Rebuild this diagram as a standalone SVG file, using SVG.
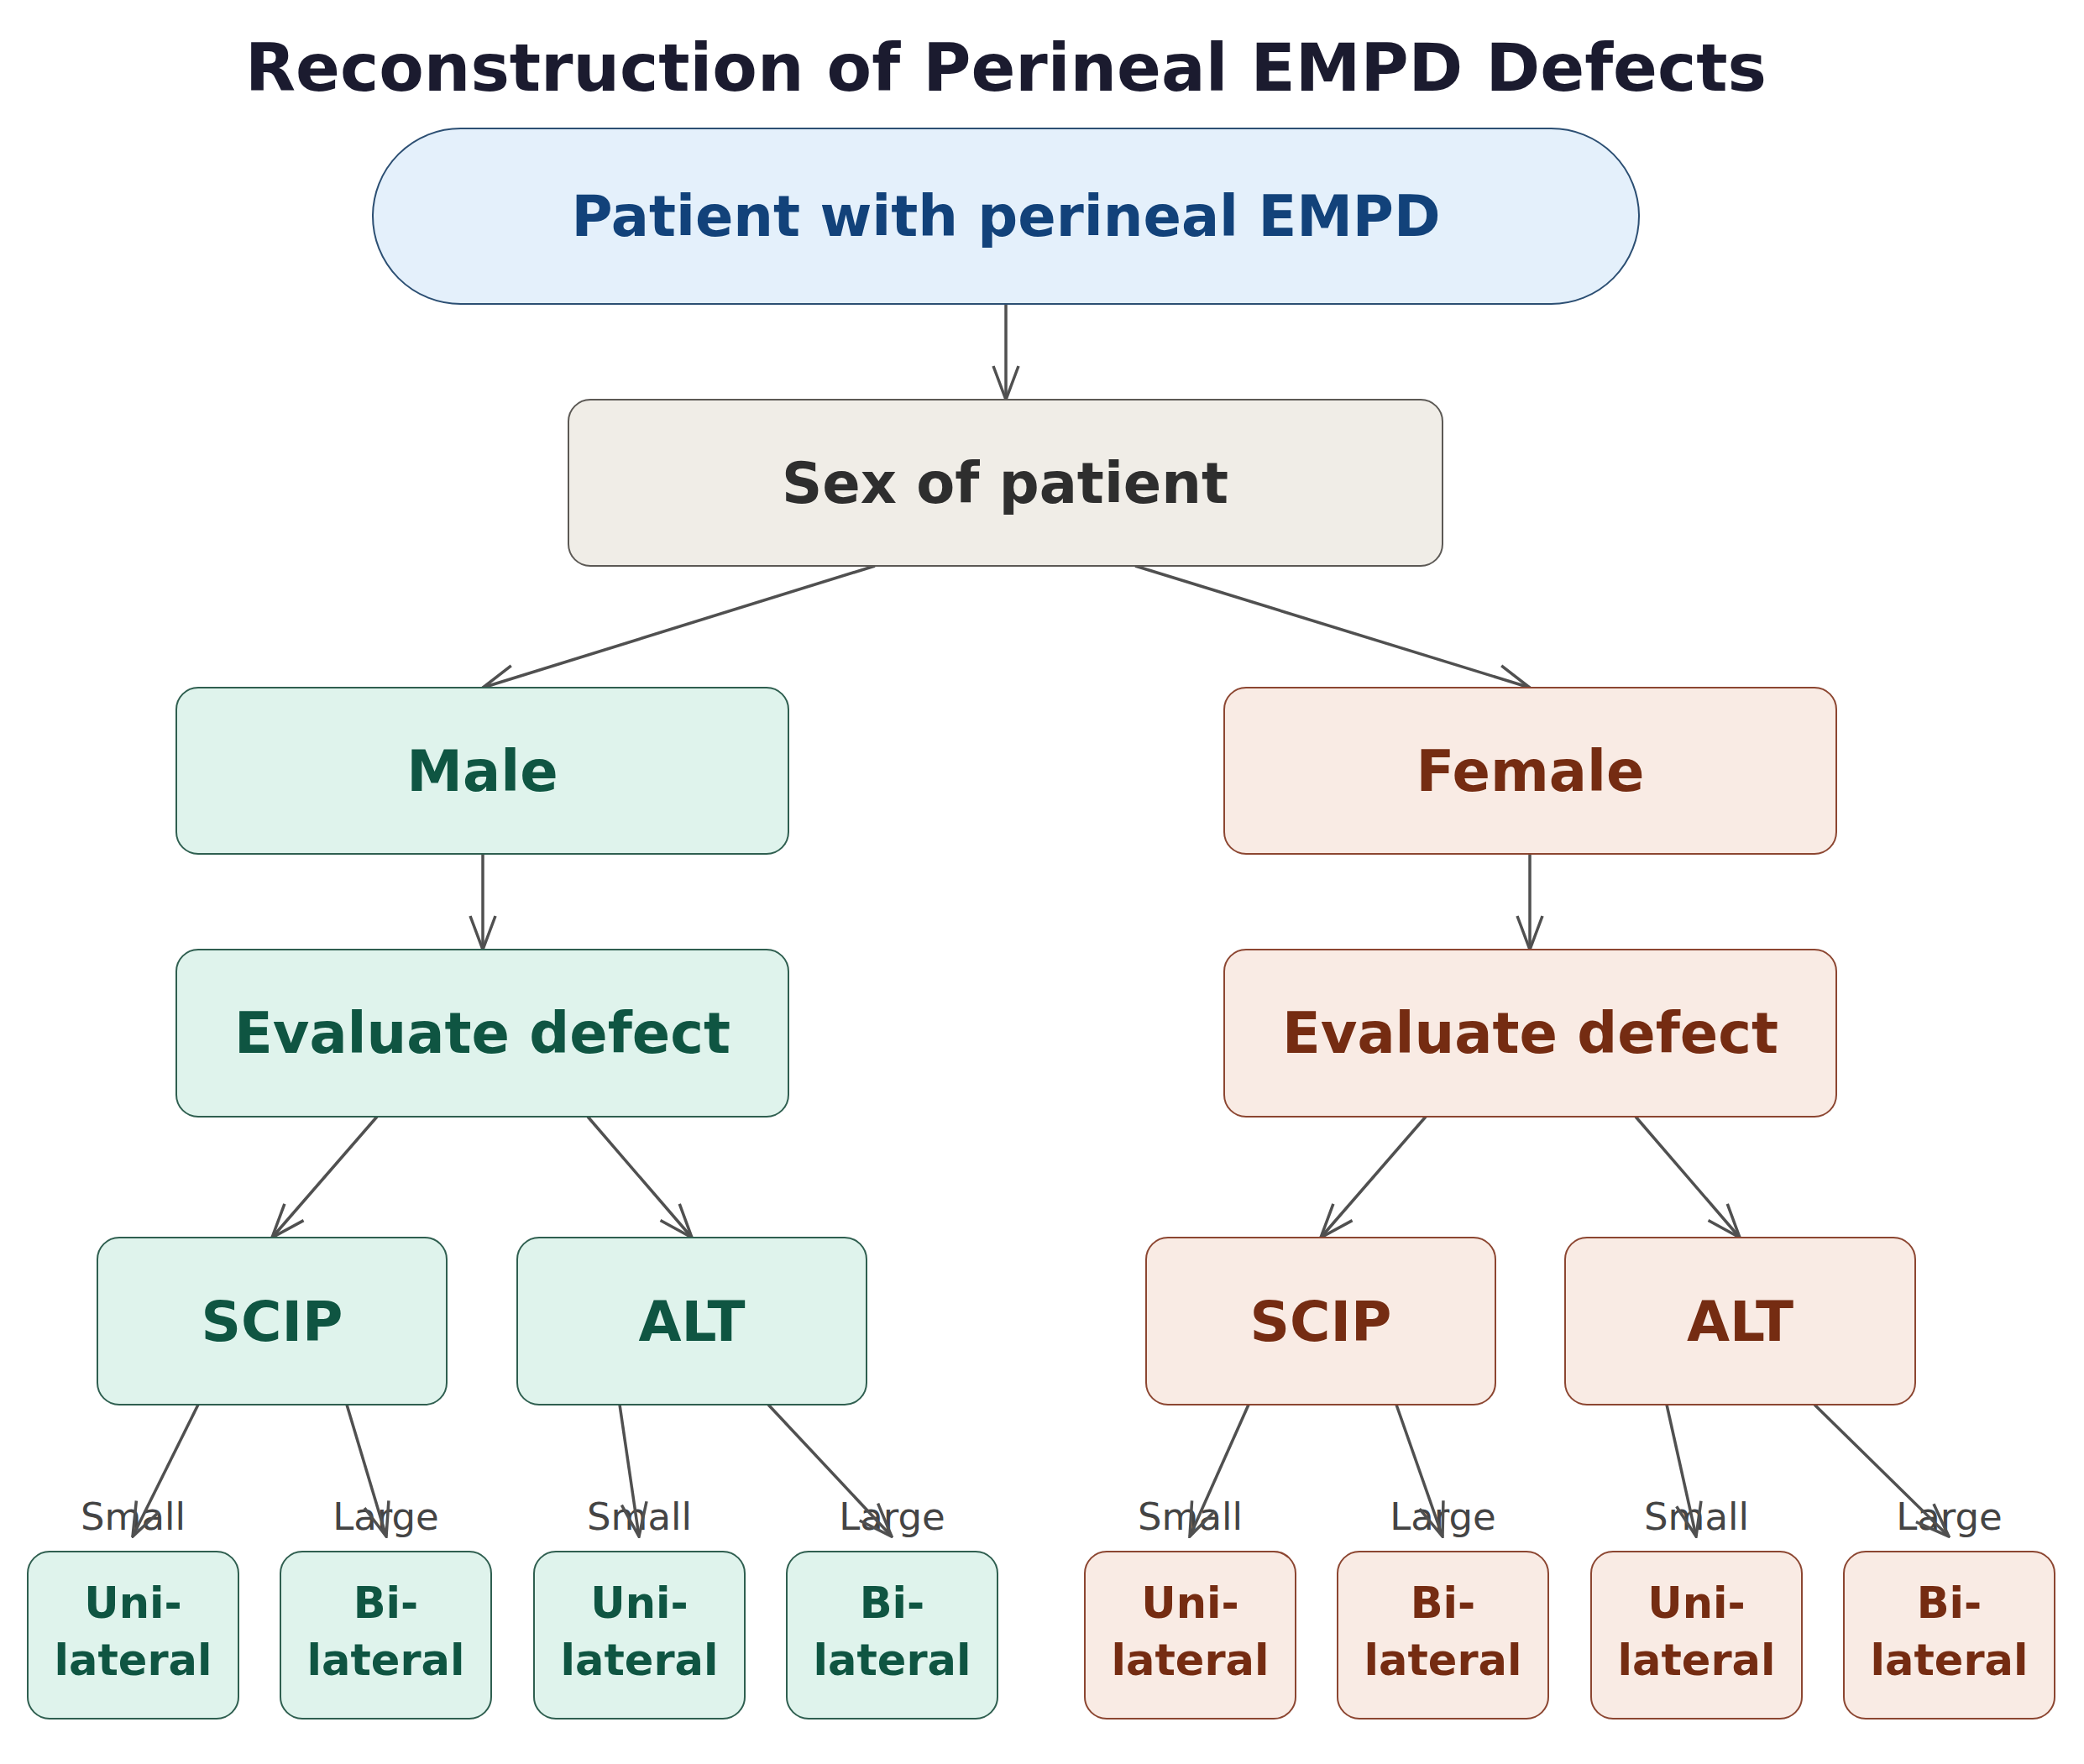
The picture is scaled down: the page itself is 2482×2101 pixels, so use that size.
<svg xmlns="http://www.w3.org/2000/svg" width="2482" height="2101" viewBox="0 0 2482 2101">
<style>
text{font-family:"DejaVu Sans","Liberation Sans",sans-serif;text-anchor:middle}
.t{font-weight:bold}
.big{font-size:67px}
.mid{font-size:66px}
.leaf{font-size:51px}
.lbl{font-size:45px;fill:#444}
.m rect{fill:#dff3ec;stroke:#2f5f50;stroke-width:2}
.m text{fill:#0f5542}
.f rect{fill:#f9ebe4;stroke:#8c4631;stroke-width:2}
.f text{fill:#752c12}
.e{stroke:#505050;stroke-width:3.5;fill:none;marker-end:url(#ah)}
</style>
<defs>
<marker id="ah" markerUnits="userSpaceOnUse" markerWidth="44" markerHeight="34" viewBox="-2 -2 44 34" refX="40" refY="15" orient="auto">
<path d="M0,0 L40,15 L0,30" fill="none" stroke="#505050" stroke-width="3.5"/>
</marker>
</defs>
<rect width="2482" height="2101" fill="#ffffff"/>
<text id="title" class="t" x="1198" y="108" font-size="78" fill="#1b1b2f">Reconstruction of Perineal EMPD Defects</text>

<g id="connectors">
<g id="edge-labels">
<text class="lbl" x="158.5" y="1822">Small</text>
<text class="lbl" x="459.5" y="1822">Large</text>
<text class="lbl" x="761.5" y="1822">Small</text>
<text class="lbl" x="1062.5" y="1822">Large</text>
<text class="lbl" x="1417.5" y="1822">Small</text>
<text class="lbl" x="1718.5" y="1822">Large</text>
<text class="lbl" x="2020.5" y="1822">Small</text>
<text class="lbl" x="2321.5" y="1822">Large</text>
</g>
<path class="e" d="M1198,362 L1198,476"/>
<path class="e" d="M1042,674 L575,819"/>
<path class="e" d="M1352,674 L1822,819"/>
<path class="e" d="M575,1017 L575,1131"/>
<path class="e" d="M1822,1017 L1822,1131"/>
<path class="e" d="M449,1330 L324,1474"/>
<path class="e" d="M700,1330 L824,1474"/>
<path class="e" d="M1698,1330 L1573,1474"/>
<path class="e" d="M1948,1330 L2072,1474"/>
<path class="e" d="M236,1673 L158,1830"/>
<path class="e" d="M413,1673 L460,1830"/>
<path class="e" d="M738,1673 L761,1830"/>
<path class="e" d="M915,1673 L1062,1830"/>
<path class="e" d="M1487,1673 L1417,1830"/>
<path class="e" d="M1663,1673 L1718,1830"/>
<path class="e" d="M1985,1673 L2020,1830"/>
<path class="e" d="M2161,1673 L2321,1830"/>
</g>

<g id="start">
<rect x="444" y="153" width="1508" height="209" rx="104.5" fill="#e4f0fb" stroke="#2c4f73" stroke-width="2"/>
<text class="t big" x="1198" y="281" fill="#12427a">Patient with perineal EMPD</text>
</g>
<g id="sex">
<rect x="677" y="476" width="1041" height="198" rx="26" fill="#f0ede7" stroke="#5c5955" stroke-width="2"/>
<text class="t big" x="1197" y="599" fill="#2e2e2e">Sex of patient</text>
</g>

<g id="male" class="m">
<rect x="210" y="819" width="729" height="198" rx="26"/>
<text class="t big" x="574.5" y="942">Male</text>
</g>
<g id="female" class="f">
<rect x="1458" y="819" width="729" height="198" rx="26"/>
<text class="t big" x="1822.5" y="942">Female</text>
</g>
<g id="eval-male" class="m">
<rect x="210" y="1131" width="729" height="199" rx="26"/>
<text class="t big" x="574.5" y="1254">Evaluate defect</text>
</g>
<g id="eval-female" class="f">
<rect x="1458" y="1131" width="729" height="199" rx="26"/>
<text class="t big" x="1822.5" y="1254">Evaluate defect</text>
</g>

<g id="scip-male" class="m">
<rect x="116" y="1474" width="416" height="199" rx="26"/>
<text class="t mid" x="324" y="1597">SCIP</text>
</g>
<g id="alt-male" class="m">
<rect x="616" y="1474" width="416" height="199" rx="26"/>
<text class="t mid" x="824" y="1597">ALT</text>
</g>
<g id="scip-female" class="f">
<rect x="1365" y="1474" width="416" height="199" rx="26"/>
<text class="t mid" x="1573" y="1597">SCIP</text>
</g>
<g id="alt-female" class="f">
<rect x="1864" y="1474" width="417" height="199" rx="26"/>
<text class="t mid" x="2072.5" y="1597">ALT</text>
</g>

<g id="m-scip-uni" class="m">
<rect x="33" y="1848" width="251" height="199" rx="26"/>
<text class="t leaf" x="158.5" y="1927">Uni-</text>
<text class="t leaf" x="158.5" y="1995">lateral</text>
</g>
<g id="m-scip-bi" class="m">
<rect x="334" y="1848" width="251" height="199" rx="26"/>
<text class="t leaf" x="459.5" y="1927">Bi-</text>
<text class="t leaf" x="459.5" y="1995">lateral</text>
</g>
<g id="m-alt-uni" class="m">
<rect x="636" y="1848" width="251" height="199" rx="26"/>
<text class="t leaf" x="761.5" y="1927">Uni-</text>
<text class="t leaf" x="761.5" y="1995">lateral</text>
</g>
<g id="m-alt-bi" class="m">
<rect x="937" y="1848" width="251" height="199" rx="26"/>
<text class="t leaf" x="1062.5" y="1927">Bi-</text>
<text class="t leaf" x="1062.5" y="1995">lateral</text>
</g>
<g id="f-scip-uni" class="f">
<rect x="1292" y="1848" width="251" height="199" rx="26"/>
<text class="t leaf" x="1417.5" y="1927">Uni-</text>
<text class="t leaf" x="1417.5" y="1995">lateral</text>
</g>
<g id="f-scip-bi" class="f">
<rect x="1593" y="1848" width="251" height="199" rx="26"/>
<text class="t leaf" x="1718.5" y="1927">Bi-</text>
<text class="t leaf" x="1718.5" y="1995">lateral</text>
</g>
<g id="f-alt-uni" class="f">
<rect x="1895" y="1848" width="251" height="199" rx="26"/>
<text class="t leaf" x="2020.5" y="1927">Uni-</text>
<text class="t leaf" x="2020.5" y="1995">lateral</text>
</g>
<g id="f-alt-bi" class="f">
<rect x="2196" y="1848" width="251" height="199" rx="26"/>
<text class="t leaf" x="2321.5" y="1927">Bi-</text>
<text class="t leaf" x="2321.5" y="1995">lateral</text>
</g>
</svg>
